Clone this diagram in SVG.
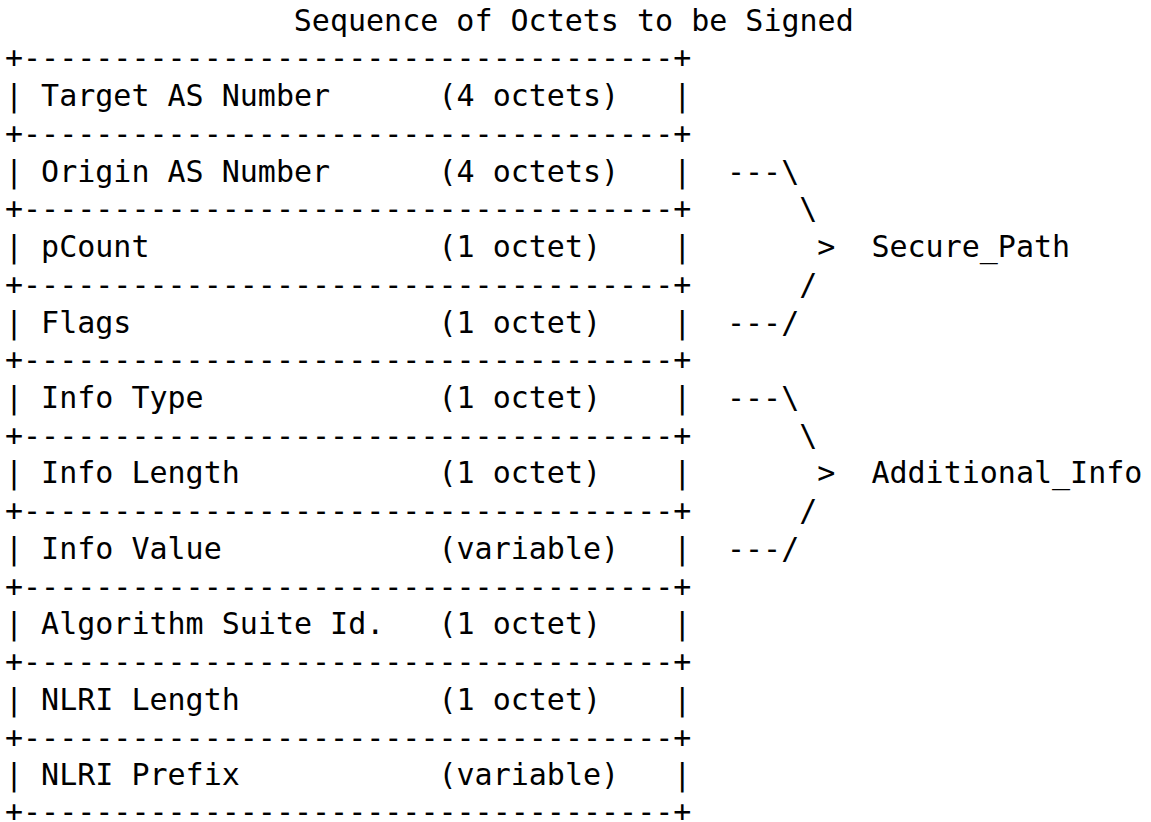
<svg xmlns="http://www.w3.org/2000/svg" width="1151" height="822" viewBox="0 0 1151 822" xml:space="preserve">
<style>
.t{font-family:"DejaVu Sans Mono","Liberation Mono",monospace;font-size:30px;fill:#000;white-space:pre}
</style>
<rect width="1151" height="822" fill="#fff"/>
<g id="title"><text class="t" x="293.8" y="30.7">Sequence of Octets to be Signed</text></g>
<g id="table">
<text class="t" x="5" y="68.43">+------------------------------------+</text>
<g id="row-target-as"><text class="t" x="5" y="106.16">| Target AS Number      (4 octets)   |</text></g>
<text class="t" x="5" y="143.89">+------------------------------------+</text>
<g id="row-origin-as"><text class="t" x="5" y="181.62">| Origin AS Number      (4 octets)   |</text></g>
<text class="t" x="5" y="219.35">+------------------------------------+</text>
<g id="row-pcount"><text class="t" x="5" y="257.08">| pCount                (1 octet)    |</text></g>
<text class="t" x="5" y="294.81">+------------------------------------+</text>
<g id="row-flags"><text class="t" x="5" y="332.54">| Flags                 (1 octet)    |</text></g>
<text class="t" x="5" y="370.27">+------------------------------------+</text>
<g id="row-info-type"><text class="t" x="5" y="408">| Info Type             (1 octet)    |</text></g>
<text class="t" x="5" y="445.73">+------------------------------------+</text>
<g id="row-info-length"><text class="t" x="5" y="483.46">| Info Length           (1 octet)    |</text></g>
<text class="t" x="5" y="521.19">+------------------------------------+</text>
<g id="row-info-value"><text class="t" x="5" y="558.92">| Info Value            (variable)   |</text></g>
<text class="t" x="5" y="596.65">+------------------------------------+</text>
<g id="row-algorithm"><text class="t" x="5" y="634.38">| Algorithm Suite Id.   (1 octet)    |</text></g>
<text class="t" x="5" y="672.11">+------------------------------------+</text>
<g id="row-nlri-length"><text class="t" x="5" y="709.84">| NLRI Length           (1 octet)    |</text></g>
<text class="t" x="5" y="747.57">+------------------------------------+</text>
<g id="row-nlri-prefix"><text class="t" x="5" y="785.3">| NLRI Prefix           (variable)   |</text></g>
<text class="t" x="5" y="822">+------------------------------------+</text>
</g>
<g id="connectors">
<text class="t" x="727" y="181.62">---\</text>
<text class="t" x="799.2" y="219.35">\</text>
<text class="t" x="817.25" y="257.08">&gt;</text>
<text class="t" x="799.2" y="294.81">/</text>
<text class="t" x="727" y="332.54">---/</text>
<text class="t" x="727" y="408">---\</text>
<text class="t" x="799.2" y="445.73">\</text>
<text class="t" x="817.25" y="483.46">&gt;</text>
<text class="t" x="799.2" y="521.19">/</text>
<text class="t" x="727" y="558.92">---/</text>
</g>
<g id="label-secure-path"><text class="t" x="871.4" y="257.08">Secure_Path</text></g>
<g id="label-additional-info"><text class="t" x="871.4" y="483.46">Additional_Info</text></g>
</svg>
